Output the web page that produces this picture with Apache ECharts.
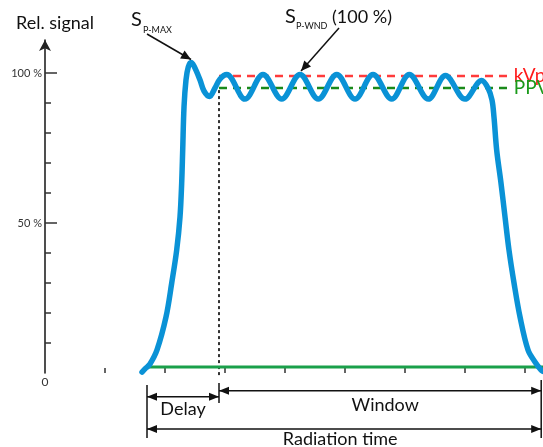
<!DOCTYPE html>
<html><head><meta charset="utf-8">
<script src="https://cdn.jsdelivr.net/npm/echarts@6/dist/echarts.min.js"></script>
<style>html,body{margin:0;padding:0;background:#fff}#c{width:543px;height:447px}</style>
</head><body><div id="c"></div><script>
// ---- data ----
const timeValues = [16.17,16.83,17.5,18.67,20.17,21.12,21.95,22.5,22.78,22.95,23.17,23.5,23.88,24.33,24.83,25.83,26.5,27.42,28.33,29.17,30.28,33.33,36.33,39.45,42.5,45.55,48.62,51.67,54.67,57.78,60.72,63.88,66.75,70,72.78,73.83,74.5,74.83,75.28,76,76.67,77.33,78.17,79.17,80.5,81.67,82.67,83];
const signalValues = [0.3,1.7,3,7.7,18.7,30,41,52,63.3,74.3,88.7,97.7,102,103.5,102.3,97.7,94,92.2,95,98,99.5,91.3,99.5,91.3,99.5,91.3,99.5,91.3,99.5,91.3,99.5,91.3,99.2,91.3,97.5,95,91,85.3,74.3,63.3,52,41,30,18.7,7.7,3.7,1,0.5];
const kvpLevel = 99;
const ppvLevel = 95;
const baselineLevel = 2;
const radiationStart = 17;
const windowStart = 29;
const radiationEnd = 82.7;
const refLineEnd = 77.8;
const yMinorTicks = [10,20,30,40,60,70,80,90];
const yMajorTicks = [50,100];
const xTicks = [10,20,30,40,50,60,70,80];
const sPmaxPoint = [24.33, 103.5];
const sPwndPoint = [42.67, 100];

const FONT = 'Lato';
const chart = echarts.init(document.getElementById('c'));
const curve = timeValues.map((t,i)=>[t, signalValues[i]]);

chart.setOption({
  animation:false,
  grid:{left:45,right:0,top:40,bottom:74,containLabel:false},
  xAxis:{type:'value',min:0,max:83,
    axisLine:{show:false},splitLine:{show:false},
    axisTick:{show:true,inside:true,length:5,customValues:xTicks,lineStyle:{color:'#333',width:1.5}},
    axisLabel:{show:true,customValues:[0],formatter:v=>'0',margin:3,fontFamily:FONT,fontSize:12,color:'#333'}
  },
  yAxis:[
    {type:'value',min:0,max:111,splitLine:{show:false},
     axisLine:{show:true,symbol:['none','arrow'],symbolSize:[9,11],lineStyle:{color:'#222',width:1.6}},
     axisTick:{show:true,inside:true,length:6,customValues:yMinorTicks,lineStyle:{color:'#333',width:1.5}},
     axisLabel:{show:false}},
    {type:'value',min:0,max:111,splitLine:{show:false},position:'left',offset:0,
     axisLine:{show:false},
     axisTick:{show:true,inside:true,length:12,customValues:yMajorTicks,lineStyle:{color:'#333',width:1.5}},
     axisLabel:{show:true,customValues:yMajorTicks,formatter:v=>v+' %',margin:3,fontFamily:FONT,fontSize:11,color:'#333'}}
  ],
  series:[
    {type:'line',data:[[radiationStart,baselineLevel],[83,baselineLevel]],symbol:'none',
     lineStyle:{color:'#1aa04a',width:3},z:2},
    {type:'line',data:[[windowStart,kvpLevel],[refLineEnd,kvpLevel]],symbol:'none',
     lineStyle:{color:'#ff3b3b',width:2.5,type:[8,6]},z:2,
     endLabel:{show:true,formatter:'kVp',color:'#ff1a1a',fontFamily:FONT,fontSize:19,distance:2}},
    {type:'line',data:[[windowStart,ppvLevel],[refLineEnd,ppvLevel]],symbol:'none',
     lineStyle:{color:'#1a8a1a',width:2.5,type:[8,6]},z:2,
     endLabel:{show:true,formatter:'PPV',color:'#1a9a1a',fontFamily:FONT,fontSize:19,distance:2}},
    {type:'line',data:[[windowStart,94.3],[windowStart,-0.7]],symbol:'none',clip:false,
     lineStyle:{color:'#333',width:2,type:[3,3]},z:1},
    {type:'line',data:curve,symbol:'none',smooth:0.35,clip:false,
     lineStyle:{color:'#0a92d6',width:5.5,cap:'round',join:'round'},z:3}
  ]
});

function px(p){return chart.convertToPixel({xAxisIndex:0,yAxisIndex:0},p);}
function arrowHead(tip, from, len, hw){
  const dx=tip[0]-from[0], dy=tip[1]-from[1], d=Math.hypot(dx,dy);
  const ux=dx/d, uy=dy/d;
  const bx=tip[0]-ux*len, by=tip[1]-uy*len;
  return {type:'polygon',shape:{points:[tip,[bx-uy*hw,by+ux*hw],[bx+uy*hw,by-ux*hw]]},style:{fill:'#111'}};
}
function seg(a,b){return {type:'line',shape:{x1:a[0],y1:a[1],x2:b[0],y2:b[1]},style:{stroke:'#111',lineWidth:1.5}};}
function dblArrow(a,b){
  return [seg(a,b),arrowHead(a,b,10,4),arrowHead(b,a,10,4)];
}
function text(t,x,y,size,align,color){
  return {type:'text',x:x,y:y,style:{text:t,fontFamily:FONT,fontSize:size,fill:color||'#111',align:align||'left',verticalAlign:'middle'}};
}
const g=[];
// bottom annotations
const yDelay=-7.9, yWindow=-5.9, yRad=-18.7;
g.push(seg(px([radiationStart,-4]),px([radiationStart,-21.7])));
g.push(seg(px([windowStart,-3.3]),px([windowStart,-10])));
g.push(seg(px([radiationEnd,-2.3]),px([radiationEnd,-21.7])));
g.push(...dblArrow(px([radiationStart,yDelay]),px([windowStart,yDelay])));
g.push(...dblArrow(px([windowStart,yWindow]),px([radiationEnd,yWindow])));
g.push(...dblArrow(px([radiationStart,yRad]),px([radiationEnd,yRad])));
let p=px([23,-12]); g.push(text('Delay',p[0],p[1],18,'center'));
p=px([56.7,-10.7]); g.push(text('Window',p[0],p[1],18,'center'));
p=px([49.2,-22]); g.push(text('Radiation time',p[0],p[1],18,'center'));
// top annotations
g.push(text('Rel. signal',16,23,18,'left'));
g.push(text('S',131,20,20,'left'));
g.push(text('P-MAX',143,30,9,'left'));
let tip=px(sPmaxPoint); tip=[tip[0],tip[1]-3];
g.push(seg([147,34],tip)); g.push(arrowHead(tip,[147,34],10,4.5));
g.push(text('S',285,17,20,'left'));
g.push(text('P-WND',296,26,9,'left'));
g.push(text('(100 %)',332,17,18,'left'));
let tip2=px(sPwndPoint); tip2=[tip2[0],tip2[1]-2];
g.push(seg([339,28],tip2)); g.push(arrowHead(tip2,[339,28],10,4.5));
chart.setOption({graphic:{elements:g.map(e=>Object.assign(e,{z:100}))}});
</script></body></html>
